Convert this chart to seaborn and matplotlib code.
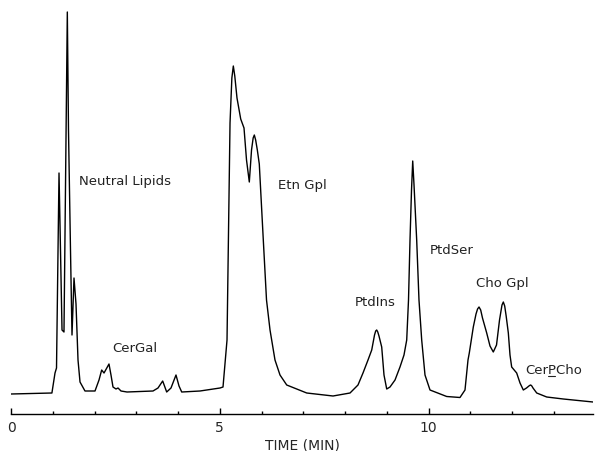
import numpy as np
import pandas as pd
import matplotlib
matplotlib.use("Agg")
import matplotlib.pyplot as plt
import seaborn as sns
from matplotlib.ticker import MultipleLocator
from matplotlib.lines import Line2D

# Retention time (min) and detector response (arbitrary units)
time_min = [0.00, 0.98, 1.054, 1.090, 1.150, 1.222, 1.269, 1.349, 1.377, 1.425,
            1.461, 1.509, 1.557, 1.605, 1.653, 1.772,
            2.012, 2.108, 2.172, 2.228, 2.347, 2.395, 2.443, 2.515, 2.563, 2.635,
            2.778, 3.401, 3.521, 3.633, 3.729, 3.832, 3.952, 4.024, 4.089, 4.527,
            5.006, 5.078, 5.174, 5.246, 5.290, 5.325, 5.360, 5.413, 5.502, 5.581,
            5.641, 5.708, 5.761, 5.800, 5.828, 5.860, 5.900, 5.947, 6.043, 6.120,
            6.204, 6.323, 6.443, 6.604,
            7.083, 7.713, 8.120, 8.311, 8.431, 8.551, 8.640, 8.707, 8.735, 8.759,
            8.785, 8.814, 8.879, 8.934, 8.999, 9.078, 9.198, 9.317, 9.413, 9.478,
            9.521, 9.557, 9.593, 9.622, 9.653, 9.717, 9.772, 9.837, 9.916, 10.036,
            10.436, 10.754, 10.874, 10.946, 10.977, 11.073, 11.138, 11.175, 11.210,
            11.250, 11.293, 11.394, 11.473, 11.552, 11.629, 11.701, 11.760, 11.792,
            11.825, 11.860, 11.912, 11.952, 11.992, 12.112, 12.192, 12.271, 12.347,
            12.420, 12.448, 12.475, 12.503, 12.592, 12.831, 13.229, 13.940]
response = [20, 21, 41, 46, 241, 84, 82, 402, 284, 164,
            79, 136, 110, 54, 32, 23,
            23, 34, 44, 41, 50, 39, 27, 25, 26, 23,
            22, 23, 26, 33, 22, 26, 39, 28, 22, 23,
            26, 27, 74, 291, 336, 348, 338, 316, 295, 286,
            254, 232, 264, 276, 279, 274, 264, 250, 174, 114,
            84, 54, 39, 29,
            21, 18, 21, 29, 41, 54, 64, 79, 83, 84,
            82, 78, 67, 39, 25, 27, 34, 47, 59, 74,
            114, 174, 224, 253, 229, 174, 114, 74, 39, 24,
            17.5, 16.5, 24, 54, 61, 87, 100, 105, 107,
            104, 96, 81, 68, 62, 69, 94, 109, 112,
            108, 98, 81, 59, 47, 41, 31, 24, 26,
            28.5, 29, 28, 26, 21, 17, 15, 12]

peak_names = ["Neutral Lipids", "CerGal", "Etn Gpl", "PtdIns", "PtdSer",
              "Cho Gpl", "CerPCho"]
label_time = [1.63, 2.42, 6.40, 8.24, 10.04, 11.14, 12.31]
label_resp = [232, 66, 229, 112, 164, 131, 44]

major_ticks = [0, 5, 10]

df = pd.DataFrame({"time": time_min, "response": response})

sns.set_theme(style="white")
plt.rcParams["font.family"] = ["DejaVu Sans"]

fig = plt.figure(figsize=(5.95, 4.51), dpi=100)
ax = fig.add_axes([11 / 595, 1 - 414 / 451, (593 - 11) / 595, 414 / 451])

sns.lineplot(data=df, x="time", y="response", ax=ax, color="black",
             linewidth=1.0, sort=False, estimator=None)

ax.set_xlim(0, 13.94)
ax.set_ylim(0, 414)

texts = []
for name, t, r in zip(peak_names, label_time, label_resp):
    texts.append(ax.text(t, r, name, ha="left", va="center", fontsize=9.5,
                         color="#222222"))

for side in ["top", "right", "left"]:
    ax.spines[side].set_visible(False)
ax.spines["bottom"].set_color("black")
ax.spines["bottom"].set_linewidth(1.0)

ax.set_yticks([])
ax.set_xticks(major_ticks)
ax.set_xticklabels([str(v) for v in major_ticks])
ax.xaxis.set_minor_locator(MultipleLocator(1))
ax.tick_params(axis="x", which="major", direction="in", length=4, width=1,
               color="black", labelsize=10, pad=5, bottom=True)
ax.tick_params(axis="x", which="minor", direction="in", length=2, width=1,
               color="black", bottom=True)

ax.set_ylabel("")
ax.set_xlabel("TIME (MIN)", fontsize=10)
ax.xaxis.set_label_coords(0.5, -0.058)
ax.xaxis.label.set_va("top")

# underline the "P" of CerPCho (text decoration, measured from the rendered text)
fig.canvas.draw()
renderer = fig.canvas.get_renderer()
cer_text = texts[-1]
bb_full = cer_text.get_window_extent(renderer)
probe = ax.text(label_time[-1], label_resp[-1], "Cer", ha="left", va="center",
                fontsize=9.5)
bb_cer = probe.get_window_extent(renderer)
probe.set_text("CerP")
bb_cerp = probe.get_window_extent(renderer)
probe.remove()
W, H = fig.bbox.width, fig.bbox.height
y_ul = bb_full.y0 + 0.5
fig.add_artist(Line2D([(bb_cer.x1 + 0.5) / W, (bb_cerp.x1 - 0.5) / W],
                      [y_ul / H, y_ul / H], transform=fig.transFigure,
                      color="#222222", linewidth=0.8))

fig.savefig("out.png", dpi=100, facecolor="white")
